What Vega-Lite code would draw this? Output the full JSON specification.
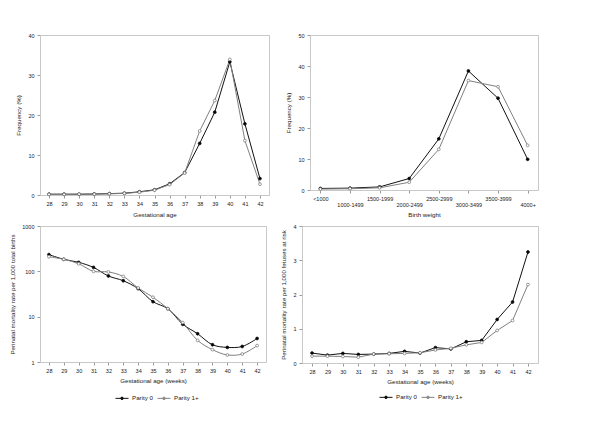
{
  "$schema": "https://vega.github.io/schema/vega-lite/v6.json",
  "background": "white",
  "padding": {"left": 9, "top": 32, "right": 5, "bottom": 5},
  "config": {
    "font": "Liberation Sans",
    "view": {"stroke": "#c8c8c8", "strokeWidth": 1},
    "axis": {"grid": false, "domainColor": "#c8c8c8", "tickColor": "#999999", "tickSize": 3, "labelFontSize": 5.5, "labelColor": "#222222", "titleFontSize": 6.2, "titleFontWeight": "normal", "titleColor": "#222222", "labelPadding": 3, "titlePadding": 4},
    "legend": {"labelFontSize": 6.2, "labelColor": "#222222", "labelOffset": 3, "columnPadding": 2}
  },
  "resolve": {"scale": {"stroke": "independent", "fill": "independent"}, "legend": {"stroke": "independent", "fill": "independent"}},
  "spacing": 4,
  "datasets": {
    "gest": [
      {"ga": 28, "parity": "Parity 0", "freq": 0.2, "peri": 234, "risk": 0.29},
      {"ga": 29, "parity": "Parity 0", "freq": 0.2, "peri": 184, "risk": 0.23},
      {"ga": 30, "parity": "Parity 0", "freq": 0.2, "peri": 158, "risk": 0.28},
      {"ga": 31, "parity": "Parity 0", "freq": 0.25, "peri": 122, "risk": 0.25},
      {"ga": 32, "parity": "Parity 0", "freq": 0.35, "peri": 79, "risk": 0.26},
      {"ga": 33, "parity": "Parity 0", "freq": 0.45, "peri": 62, "risk": 0.28},
      {"ga": 34, "parity": "Parity 0", "freq": 0.8, "peri": 41.5, "risk": 0.34},
      {"ga": 35, "parity": "Parity 0", "freq": 1.3, "peri": 21.4, "risk": 0.29},
      {"ga": 36, "parity": "Parity 0", "freq": 2.8, "peri": 15, "risk": 0.45},
      {"ga": 37, "parity": "Parity 0", "freq": 5.6, "peri": 6.8, "risk": 0.41},
      {"ga": 38, "parity": "Parity 0", "freq": 12.9, "peri": 4.2, "risk": 0.62},
      {"ga": 39, "parity": "Parity 0", "freq": 20.7, "peri": 2.4, "risk": 0.66},
      {"ga": 40, "parity": "Parity 0", "freq": 33.3, "peri": 2.1, "risk": 1.27},
      {"ga": 41, "parity": "Parity 0", "freq": 17.8, "peri": 2.2, "risk": 1.78},
      {"ga": 42, "parity": "Parity 0", "freq": 4.1, "peri": 3.3, "risk": 3.24},
      {"ga": 28, "parity": "Parity 1+", "freq": 0.15, "peri": 210, "risk": 0.2},
      {"ga": 29, "parity": "Parity 1+", "freq": 0.15, "peri": 184, "risk": 0.2},
      {"ga": 30, "parity": "Parity 1+", "freq": 0.2, "peri": 147, "risk": 0.19},
      {"ga": 31, "parity": "Parity 1+", "freq": 0.2, "peri": 100, "risk": 0.17},
      {"ga": 32, "parity": "Parity 1+", "freq": 0.3, "peri": 97, "risk": 0.26},
      {"ga": 33, "parity": "Parity 1+", "freq": 0.4, "peri": 77, "risk": 0.27},
      {"ga": 34, "parity": "Parity 1+", "freq": 0.7, "peri": 43, "risk": 0.28},
      {"ga": 35, "parity": "Parity 1+", "freq": 1.2, "peri": 26.8, "risk": 0.3},
      {"ga": 36, "parity": "Parity 1+", "freq": 2.6, "peri": 15, "risk": 0.38},
      {"ga": 37, "parity": "Parity 1+", "freq": 5.5, "peri": 7.4, "risk": 0.43},
      {"ga": 38, "parity": "Parity 1+", "freq": 16.0, "peri": 3.0, "risk": 0.53},
      {"ga": 39, "parity": "Parity 1+", "freq": 23.6, "peri": 1.87, "risk": 0.6},
      {"ga": 40, "parity": "Parity 1+", "freq": 33.9, "peri": 1.43, "risk": 0.95},
      {"ga": 41, "parity": "Parity 1+", "freq": 13.6, "peri": 1.5, "risk": 1.24},
      {"ga": 42, "parity": "Parity 1+", "freq": 2.7, "peri": 2.3, "risk": 2.29}
    ],
    "bw": [
      {"cat": "<1000", "parity": "Parity 0", "freq": 0.5},
      {"cat": "1000-1499", "parity": "Parity 0", "freq": 0.6},
      {"cat": "1500-1999", "parity": "Parity 0", "freq": 1.0},
      {"cat": "2000-2499", "parity": "Parity 0", "freq": 3.7},
      {"cat": "2500-2999", "parity": "Parity 0", "freq": 16.5},
      {"cat": "3000-3499", "parity": "Parity 0", "freq": 38.4},
      {"cat": "3500-3999", "parity": "Parity 0", "freq": 29.6},
      {"cat": "4000+", "parity": "Parity 0", "freq": 9.9},
      {"cat": "<1000", "parity": "Parity 1+", "freq": 0.3},
      {"cat": "1000-1499", "parity": "Parity 1+", "freq": 0.4},
      {"cat": "1500-1999", "parity": "Parity 1+", "freq": 0.7},
      {"cat": "2000-2499", "parity": "Parity 1+", "freq": 2.5},
      {"cat": "2500-2999", "parity": "Parity 1+", "freq": 13.1},
      {"cat": "3000-3499", "parity": "Parity 1+", "freq": 35.3},
      {"cat": "3500-3999", "parity": "Parity 1+", "freq": 33.3},
      {"cat": "4000+", "parity": "Parity 1+", "freq": 14.4}
    ]
  },
  "vconcat": [
    {
      "spacing": 15,
      "resolve": {"scale": {"stroke": "independent", "fill": "independent"}, "legend": {"stroke": "independent", "fill": "independent"}},
      "hconcat": [
        {
          "width": 229, "height": 160,
          "data": {"name": "gest"},
          "encoding": {
            "x": {"field": "ga", "type": "ordinal", "scale": {"type": "point", "padding": 0.6}, "axis": {"title": "Gestational age", "labelAngle": 0, "titlePadding": 5}},
            "y": {"field": "freq", "type": "quantitative", "scale": {"domain": [0, 40]}, "axis": {"title": "Frequency (%)", "values": [0, 10, 20, 30, 40], "titlePadding": 6}},
            "stroke": {"field": "parity", "type": "nominal", "scale": {"domain": ["Parity 0", "Parity 1+"], "range": ["#111111", "#808080"]}, "legend": null}
          },
          "layer": [
            {"mark": {"type": "line", "strokeWidth": 1}},
            {"mark": {"type": "point", "filled": true, "size": 8, "strokeWidth": 0.8, "opacity": 1},
             "encoding": {"fill": {"field": "parity", "type": "nominal", "scale": {"domain": ["Parity 0", "Parity 1+"], "range": ["#000000", "#ffffff"]}, "legend": null}}}
          ]
        },
        {
          "width": 228, "height": 155,
          "data": {"name": "bw"},
          "encoding": {
            "x": {"field": "cat", "type": "ordinal", "sort": null, "scale": {"type": "point", "padding": 0.35}, "axis": {"title": "Birth weight", "labelAngle": 0, "labelExpr": "indexof(['1000-1499','2000-2499','3000-3499','4000+'], datum.value) >= 0 ? ['', datum.label] : datum.label", "labelLineHeight": 6, "titlePadding": 4}},
            "y": {"field": "freq", "type": "quantitative", "scale": {"domain": [0, 50]}, "axis": {"title": "Frequency (%)", "values": [0, 10, 20, 30, 40, 50], "titlePadding": 6}},
            "stroke": {"field": "parity", "type": "nominal", "scale": {"domain": ["Parity 0", "Parity 1+"], "range": ["#111111", "#808080"]}, "legend": null}
          },
          "layer": [
            {"mark": {"type": "line", "strokeWidth": 1}},
            {"mark": {"type": "point", "filled": true, "size": 8, "strokeWidth": 0.8, "opacity": 1},
             "encoding": {"fill": {"field": "parity", "type": "nominal", "scale": {"domain": ["Parity 0", "Parity 1+"], "range": ["#000000", "#ffffff"]}, "legend": null}}}
          ]
        }
      ]
    },
    {
      "spacing": 13,
      "resolve": {"scale": {"stroke": "independent", "fill": "independent"}, "legend": {"stroke": "independent", "fill": "independent"}},
      "hconcat": [
        {
          "width": 226, "height": 136,
          "data": {"name": "gest"},
          "encoding": {
            "x": {"field": "ga", "type": "ordinal", "scale": {"type": "point", "padding": 0.6}, "axis": {"title": "Gestational age (weeks)", "labelAngle": 0, "titlePadding": 4}},
            "y": {"field": "peri", "type": "quantitative", "scale": {"type": "log", "domain": [1, 1000]}, "axis": {"title": "Perinatal mortality rate per 1,000 total births", "values": [1, 10, 100, 1000], "format": "d", "titlePadding": 6}},
            "stroke": {"field": "parity", "type": "nominal", "scale": {"domain": ["Parity 0", "Parity 1+"], "range": ["#111111", "#808080"]},
              "legend": {"title": null, "orient": "none", "legendX": 75, "legendY": 165, "direction": "horizontal", "symbolType": "M-1,0L1,0M-0.2,0A0.2,0.2 0 1 0 0.2,0A0.2,0.2 0 1 0 -0.2,0", "symbolSize": 169, "symbolStrokeWidth": 1}}
          },
          "layer": [
            {"mark": {"type": "line", "strokeWidth": 1, "interpolate": "catmull-rom"}},
            {"mark": {"type": "point", "filled": true, "size": 8, "strokeWidth": 0.8, "opacity": 1},
             "encoding": {"fill": {"field": "parity", "type": "nominal", "scale": {"domain": ["Parity 0", "Parity 1+"], "range": ["#000000", "#ffffff"]},
               "legend": {"title": null, "orient": "none", "legendX": 75, "legendY": 165, "direction": "horizontal", "symbolType": "M-1,0L1,0M-0.2,0A0.2,0.2 0 1 0 0.2,0A0.2,0.2 0 1 0 -0.2,0", "symbolSize": 169, "symbolStrokeWidth": 1}}}}
          ]
        },
        {
          "width": 236, "height": 137,
          "data": {"name": "gest"},
          "encoding": {
            "x": {"field": "ga", "type": "ordinal", "scale": {"type": "point", "padding": 0.65}, "axis": {"title": "Gestational age (weeks)", "labelAngle": 0, "titlePadding": 4}},
            "y": {"field": "risk", "type": "quantitative", "scale": {"domain": [0, 4]}, "axis": {"title": "Perinatal mortality rate per 1,000 fetuses at risk", "values": [0, 1, 2, 3, 4], "titlePadding": 6}},
            "stroke": {"field": "parity", "type": "nominal", "scale": {"domain": ["Parity 0", "Parity 1+"], "range": ["#111111", "#808080"]},
              "legend": {"title": null, "orient": "none", "legendX": 77, "legendY": 164, "direction": "horizontal", "symbolType": "M-1,0L1,0M-0.2,0A0.2,0.2 0 1 0 0.2,0A0.2,0.2 0 1 0 -0.2,0", "symbolSize": 169, "symbolStrokeWidth": 1}}
          },
          "layer": [
            {"mark": {"type": "line", "strokeWidth": 1}},
            {"mark": {"type": "point", "filled": true, "size": 8, "strokeWidth": 0.8, "opacity": 1},
             "encoding": {"fill": {"field": "parity", "type": "nominal", "scale": {"domain": ["Parity 0", "Parity 1+"], "range": ["#000000", "#ffffff"]},
               "legend": {"title": null, "orient": "none", "legendX": 77, "legendY": 164, "direction": "horizontal", "symbolType": "M-1,0L1,0M-0.2,0A0.2,0.2 0 1 0 0.2,0A0.2,0.2 0 1 0 -0.2,0", "symbolSize": 169, "symbolStrokeWidth": 1}}}}
          ]
        }
      ]
    }
  ]
}
